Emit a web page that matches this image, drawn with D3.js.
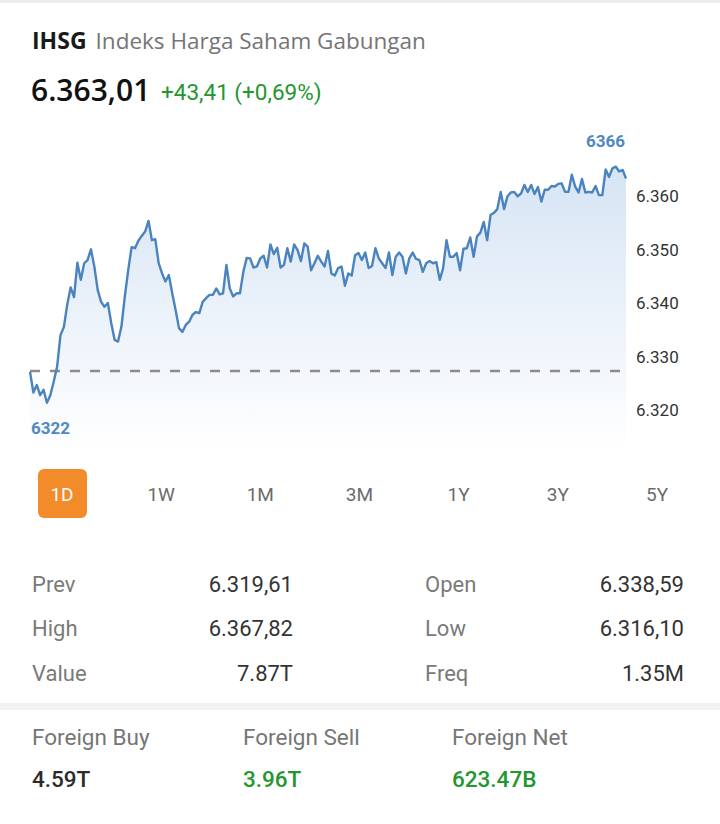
<!DOCTYPE html>
<html>
<head>
<meta charset="utf-8">
<script src="https://cdn.jsdelivr.net/npm/d3@7"></script>
<style>
  body { margin: 0; background: #fff; }
  svg { display: block; font-family: Roboto, "Open Sans", sans-serif; }
</style>
</head>
<body>
<script>
// IHSG intraday values left to right
var prices = [
  6327.8, 6323.9, 6325.3, 6323.4, 6324.4, 6322.0, 6323.4, 6325.9, 6328.7, 6334.6,
  6336.1, 6340.3, 6343.5, 6341.7, 6348.1, 6344.9, 6348.0, 6348.6, 6350.6, 6347.4,
  6343.0, 6340.8, 6339.9, 6340.6, 6336.8, 6333.7, 6333.4, 6336.2, 6341.8, 6346.7,
  6351.0, 6350.8, 6352.2, 6353.1, 6353.9, 6355.9, 6352.3, 6352.5, 6348.0, 6346.1,
  6344.6, 6345.8, 6342.4, 6339.3, 6335.9,
  6335.2, 6336.5, 6337.1, 6338.4, 6338.9, 6338.7, 6340.8, 6341.5, 6342.1, 6342.1,
  6343.3, 6342.2, 6342.4, 6347.7, 6343.3, 6341.8, 6342.4, 6342.4, 6346.4, 6349.0,
  6348.9, 6347.2, 6347.4, 6348.9, 6349.4, 6347.2, 6351.5, 6349.7, 6350.9, 6347.2,
  6347.7, 6350.8, 6348.3, 6351.5, 6350.5, 6348.4, 6351.7, 6351.1, 6346.7, 6348.0,
  6349.4, 6348.3,
  6347.4, 6350.3, 6346.1, 6345.7, 6347.1, 6347.4, 6343.8, 6346.1, 6345.7, 6349.5,
  6349.9, 6348.6, 6350.0, 6347.1, 6347.5, 6350.8, 6348.9, 6348.0, 6347.1, 6350.0,
  6345.8, 6349.2, 6350.0, 6349.2, 6346.1, 6348.9, 6350.0, 6348.8, 6348.6, 6346.4,
  6348.0, 6348.4, 6348.0, 6348.2, 6344.9, 6347.1, 6352.3, 6349.2, 6349.2, 6349.9,
  6346.7, 6350.7, 6350.8,
  6352.8, 6349.2, 6353.0, 6353.7, 6355.7, 6352.3, 6357.0, 6357.4, 6358.1, 6361.3,
  6358.1, 6360.5, 6361.2, 6361.3, 6360.5, 6361.0, 6362.6, 6361.3, 6362.6, 6360.9,
  6362.2, 6359.5, 6361.7, 6361.7, 6362.4, 6362.3, 6362.8, 6362.9, 6361.3, 6361.3,
  6364.5, 6362.3, 6361.2, 6363.7, 6361.2, 6361.3, 6361.2, 6362.4, 6360.7, 6360.7,
  6365.5, 6364.1, 6365.7, 6366.0, 6365.1, 6365.4, 6363.8
];
var refLevel = 6327.9;
var yTicks = [6320, 6330, 6340, 6350, 6360];

var periods = ["1D", "1W", "1M", "3M", "1Y", "3Y", "5Y"];

var statNames = ["Prev", "Open", "High", "Low", "Value", "Freq"];
var statValues = ["6.319,61", "6.338,59", "6.367,82", "6.316,10", "7.87T", "1.35M"];

var foreignNames = ["Foreign Buy", "Foreign Sell", "Foreign Net"];
var foreignValues = ["4.59T", "3.96T", "623.47B"];

var W = 720, H = 824;
var green = "#23962f", blue = "#5089c2";

var svg = d3.select("body").append("svg")
  .attr("width", W)
  .attr("height", H);

// thin grey strip at the very top
svg.append("rect").attr("x", 0).attr("y", 0).attr("width", W).attr("height", 3).attr("fill", "#ececec");

// header
var head = svg.append("text").attr("x", 32).attr("y", 49).style("font-family", "'Open Sans', sans-serif");
head.append("tspan").attr("font-weight", 700).attr("font-size", 23).attr("fill", "#1a1a1a").text("IHSG");
head.append("tspan").attr("dx", 9).attr("font-size", 22.5).attr("fill", "#757575").text("Indeks Harga Saham Gabungan");

svg.append("text")
  .attr("x", 31).attr("y", 101)
  .style("font-family", "'Open Sans', sans-serif")
  .attr("font-weight", 600).attr("font-size", 30).attr("fill", "#111")
  .text("6.363,01");

svg.append("text")
  .attr("x", 161).attr("y", 100)
  .attr("font-size", 22.5).attr("fill", green)
  .text("+43,41 (+0,69%)");

// chart
var x = d3.scaleLinear()
  .domain([0, prices.length - 1])
  .range([30, 626]);

var y = d3.scaleLinear()
  .domain([6322, 6366])
  .range([402.7, 166.7]);

var defs = svg.append("defs");
var grad = defs.append("linearGradient")
  .attr("id", "fill")
  .attr("gradientUnits", "userSpaceOnUse")
  .attr("x1", 0).attr("x2", 0).attr("y1", 165).attr("y2", 452);
grad.append("stop").attr("offset", 0).attr("stop-color", "#d6e4f4");
grad.append("stop").attr("offset", 1).attr("stop-color", "#ffffff");

var area = d3.area()
  .x(function(d, i) { return x(i); })
  .y0(452)
  .y1(function(d) { return y(d); });

svg.append("path")
  .datum(prices)
  .attr("d", area)
  .attr("fill", "url(#fill)");

svg.append("line")
  .attr("x1", 30).attr("x2", 622)
  .attr("y1", y(refLevel)).attr("y2", y(refLevel))
  .attr("stroke", "#8c8c8c")
  .attr("stroke-width", 2.5)
  .attr("stroke-dasharray", "10,10");

var line = d3.line()
  .x(function(d, i) { return x(i); })
  .y(function(d) { return y(d); });

svg.append("path")
  .datum(prices)
  .attr("d", line)
  .attr("fill", "none")
  .attr("stroke", "#4a83bd")
  .attr("stroke-width", 2.4)
  .attr("stroke-linejoin", "round");

// y labels on the right
svg.append("g")
  .selectAll("text")
  .data(yTicks)
  .enter().append("text")
  .attr("x", 636)
  .attr("y", function(d) { return y(d) - 3; })
  .attr("dominant-baseline", "central")
  .attr("font-size", 17)
  .attr("fill", "#333")
  .text(function(d) { return d3.format(",.3f")(d / 1000).replace(",", "."); });

// high / low markers
var hi = d3.max(prices), lo = d3.min(prices);
svg.append("text")
  .attr("x", 625).attr("y", y(hi) - 20)
  .attr("text-anchor", "end")
  .attr("font-size", 17).attr("font-weight", 700).attr("fill", blue)
  .text(Math.round(hi));
svg.append("text")
  .attr("x", 31).attr("y", y(lo) + 31)
  .attr("font-size", 17).attr("font-weight", 700).attr("fill", blue)
  .text(Math.round(lo));

// period selector
var px = d3.scalePoint().domain(periods).range([62, 657]);
svg.append("rect")
  .attr("x", px("1D") - 24).attr("y", 469)
  .attr("width", 49).attr("height", 49)
  .attr("rx", 6)
  .attr("fill", "#f28b2a");
svg.append("g")
  .selectAll("text")
  .data(periods)
  .enter().append("text")
  .attr("x", function(d) { return px(d); })
  .attr("y", 494)
  .attr("text-anchor", "middle")
  .attr("dominant-baseline", "central")
  .attr("font-size", 19)
  .attr("fill", function(d, i) { return i == 0 ? "#fff" : "#6b6b6b"; })
  .text(function(d) { return d; });

// stats table, two columns
var stats = svg.append("g").attr("font-size", 22);
statNames.forEach(function(name, i) {
  var col = i % 2, row = Math.floor(i / 2);
  var ty = 584 + row * 44.5;
  stats.append("text")
    .attr("x", col ? 425 : 32).attr("y", ty)
    .attr("dominant-baseline", "central")
    .attr("fill", "#7a7a7a")
    .text(name);
  stats.append("text")
    .attr("x", col ? 684 : 293).attr("y", ty)
    .attr("dominant-baseline", "central")
    .attr("text-anchor", "end")
    .attr("fill", "#333")
    .text(statValues[i]);
});

svg.append("rect").attr("x", 0).attr("y", 703).attr("width", W).attr("height", 7).attr("fill", "#f1f1f1");

// foreign flow
var fx = [32, 243, 452];
var fg = svg.append("g").attr("font-size", 22.5);
foreignNames.forEach(function(name, i) {
  fg.append("text")
    .attr("x", fx[i]).attr("y", 737)
    .attr("dominant-baseline", "central")
    .attr("fill", "#767676")
    .text(name);
  fg.append("text")
    .attr("x", fx[i]).attr("y", 779)
    .attr("dominant-baseline", "central")
    .attr("font-weight", 500)
    .attr("fill", i == 0 ? "#2b2b2b" : green)
    .text(foreignValues[i]);
});
</script>
</body>
</html>
